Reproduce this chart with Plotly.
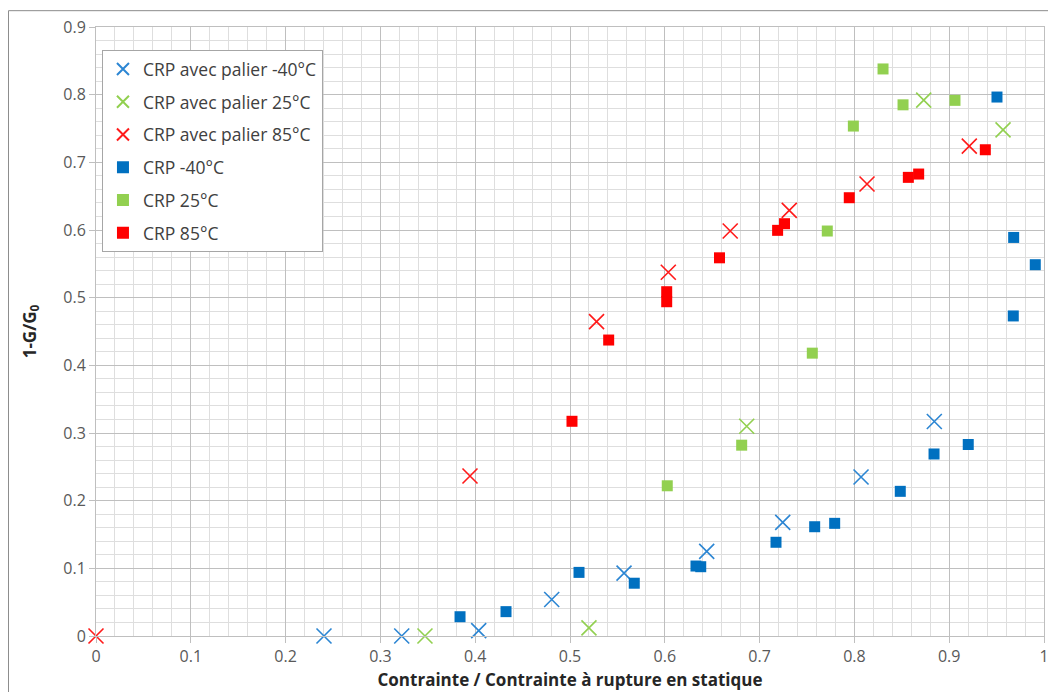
import plotly.graph_objects as go

# ---- data ----
palier_m40_x = [0.2405, 0.3225, 0.4037, 0.4807, 0.557, 0.6442, 0.7244, 0.807, 0.8843]
palier_m40_y = [0.0, 0.0, 0.008, 0.054, 0.093, 0.125, 0.168, 0.235, 0.317]

palier_25_x = [0.347, 0.520, 0.6864, 0.8731, 0.9568]
palier_25_y = [0.0, 0.012, 0.310, 0.792, 0.748]

palier_85_x = [0.0, 0.3945, 0.528, 0.6037, 0.669, 0.7313, 0.8133, 0.9212]
palier_85_y = [0.0, 0.2365, 0.4645, 0.5375, 0.5985, 0.629, 0.668, 0.724]

crp_m40_x = [0.384, 0.4325, 0.5095, 0.5678, 0.6329, 0.6379, 0.7173, 0.7581, 0.7792,
             0.8484, 0.884, 0.9201, 0.9504, 0.9676, 0.968, 0.9908]
crp_m40_y = [0.0285, 0.036, 0.094, 0.078, 0.1034, 0.1024, 0.1385, 0.1615, 0.1665,
             0.2138, 0.269, 0.283, 0.7965, 0.473, 0.589, 0.5487]

crp_25_x = [0.6026, 0.6811, 0.7556, 0.7714, 0.7989, 0.8302, 0.8513, 0.9061]
crp_25_y = [0.222, 0.282, 0.418, 0.5985, 0.7536, 0.838, 0.785, 0.7916]

crp_85_x = [0.5021, 0.5408, 0.602, 0.602, 0.6577, 0.719, 0.7263, 0.7946, 0.8569, 0.8678, 0.9381]
crp_85_y = [0.3173, 0.4374, 0.5088, 0.494, 0.5589, 0.5995, 0.6093, 0.6477, 0.6778, 0.6827, 0.7186]

names = ["CRP avec palier -40°C", "CRP avec palier 25°C", "CRP avec palier 85°C",
         "CRP -40°C", "CRP 25°C", "CRP 85°C"]
x_ticks = [0, 0.1, 0.2, 0.3, 0.4, 0.5, 0.6, 0.7, 0.8, 0.9, 1]
y_ticks = [0, 0.1, 0.2, 0.3, 0.4, 0.5, 0.6, 0.7, 0.8, 0.9]

fig = go.Figure()

cross_series = [(palier_m40_x, palier_m40_y, "#2C86D3"),
                (palier_25_x, palier_25_y, "#92D050"),
                (palier_85_x, palier_85_y, "#FF1A1A")]
for i, (xs, ys, col) in enumerate(cross_series):
    fig.add_trace(go.Scatter(
        x=xs, y=ys, mode="markers", name=names[i], legendgroup=f"g{i}",
        marker=dict(symbol="x-thin-open", size=15, color=col,
                    line=dict(color=col, width=1.6)),
        cliponaxis=False))

square_series = [(crp_m40_x, crp_m40_y, "#0070C0"),
                 (crp_25_x, crp_25_y, "#92D050"),
                 (crp_85_x, crp_85_y, "#FF0000")]
for j, (xs, ys, col) in enumerate(square_series):
    fig.add_trace(go.Scatter(
        x=xs, y=ys, mode="markers", name=names[3 + j], legendgroup=f"g{3+j}",
        marker=dict(symbol="square", size=11, color=col, line=dict(width=0)),
        cliponaxis=False))

font_family = "Open Sans, DejaVu Sans, sans-serif"

fig.update_layout(
    width=1040, height=684,
    margin=dict(l=88, r=4, t=19, b=56),
    paper_bgcolor="white", plot_bgcolor="white",
    font=dict(family=font_family, color="#595959", size=16),
    showlegend=True,
    legend=dict(
        x=0.0063, y=0.962, xanchor="left", yanchor="top",
        bgcolor="white", bordercolor="#A6A6A6", borderwidth=1,
        font=dict(family=font_family, size=17.5, color="#404040"),
        tracegroupgap=7, itemsizing="constant",
    ),
    xaxis=dict(
        range=[0, 1], tickvals=x_ticks, ticktext=[f"{v:g}" for v in x_ticks],
        showgrid=True, gridcolor="#BFBFBF", gridwidth=1,
        minor=dict(dtick=0.02, showgrid=True, gridcolor="#DEDEDE", gridwidth=1),
        showline=True, linecolor="#BFBFBF", linewidth=1, mirror=True,
        ticks="outside", ticklen=6, tickcolor="#BFBFBF",
        zeroline=False, ticklabeloverflow="allow", automargin=False,
        tickfont=dict(size=16, color="#595959"),
        title=dict(text="<b>Contrainte / Contrainte à rupture en statique</b>",
                   font=dict(size=17, color="#262626"), standoff=7),
    ),
    yaxis=dict(
        range=[0, 0.9], tickvals=y_ticks, ticktext=[f"{v:g}" for v in y_ticks],
        showgrid=True, gridcolor="#BFBFBF", gridwidth=1,
        minor=dict(dtick=0.02, showgrid=True, gridcolor="#DEDEDE", gridwidth=1),
        showline=True, linecolor="#BFBFBF", linewidth=1, mirror=True,
        ticks="outside", ticklen=6, tickcolor="#BFBFBF",
        zeroline=False, ticklabeloverflow="allow", automargin=False,
        tickfont=dict(size=16, color="#595959"),
        title=dict(text="<b>1-G/G<sub>0</sub></b>",
                   font=dict(size=17, color="#262626"), standoff=22),
    ),
)

# outer chart border
fig.add_shape(type="rect", xref="paper", yref="paper",
              x0=-0.0923, x1=1.05, y0=-0.12, y1=1.0268,
              line=dict(color="#8C8C8C", width=1), fillcolor="rgba(0,0,0,0)", layer="below")

fig.write_html("out.html")
